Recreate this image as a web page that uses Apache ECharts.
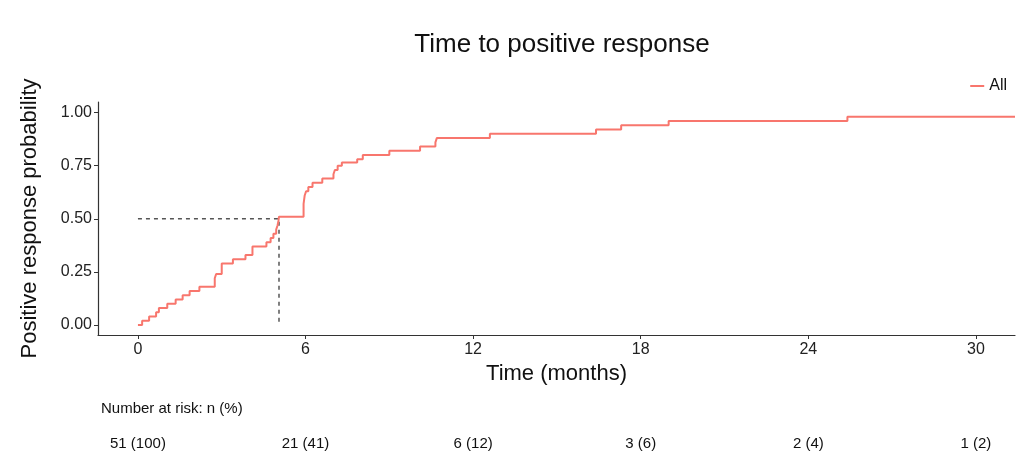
<!DOCTYPE html>
<html>
<head>
<meta charset="utf-8">
<script src="https://cdn.jsdelivr.net/npm/echarts@6/dist/echarts.min.js"></script>
<style>html,body{margin:0;padding:0;background:#fff}#c{width:1024px;height:464px}</style>
</head>
<body>
<div id="c"></div>
<script>
// Kaplan-Meier style step curve: time (months) and cumulative probability
const times = [0, 0.15, 0.4, 0.65, 0.75, 1.05, 1.35, 1.6, 1.85, 2.2, 2.75, 2.8, 3.0, 3.4, 3.85, 4.1, 4.6, 4.75, 4.85, 4.95, 5.0, 5.03, 5.05,
  5.93, 5.97, 6.02, 6.1, 6.25, 6.6, 7.0, 7.05, 7.15, 7.3, 7.85, 8.05, 9.0, 10.1, 10.65, 10.7, 12.6, 16.4, 17.3, 19.0, 25.4, 31.4];
const probs = [0, 0.02, 0.04, 0.06, 0.08, 0.10, 0.12, 0.14, 0.16, 0.18, 0.22, 0.24, 0.29, 0.31, 0.33, 0.37, 0.39, 0.41, 0.43, 0.45, 0.47, 0.49, 0.51,
  0.57, 0.61, 0.63, 0.65, 0.67, 0.69, 0.71, 0.73, 0.75, 0.765, 0.78, 0.80, 0.82, 0.84, 0.86, 0.88, 0.90, 0.92, 0.94, 0.96, 0.98, 0.98];
const medianTime = 5.05;
const medianProb = 0.5;
const xTicks = [0, 6, 12, 18, 24, 30];
const yTicks = [0, 0.25, 0.5, 0.75, 1.0];
const riskLabels = ['51 (100)', '21 (41)', '6 (12)', '3 (6)', '2 (4)', '1 (2)'];
const seriesName = 'All';

const curve = times.map((t, i) => [t, probs[i]]);
const FONT = 'Liberation Sans, Arial, sans-serif';
const chart = echarts.init(document.getElementById('c'), null, {renderer: 'canvas'});
chart.setOption({
  animation: false,
  backgroundColor: '#fff',
  title: [{
    text: 'Time to positive response', left: 557, top: 27, textAlign: 'center',
    textStyle: {fontFamily: FONT, fontSize: 26, fontWeight: 'normal', color: '#111'}
  }, {
    text: 'Number at risk: n (%)', left: 96, top: 396,
    textStyle: {fontFamily: FONT, fontSize: 15, fontWeight: 'normal', color: '#111'}
  }],
  legend: {
    right: 12, top: 73, itemWidth: 14, itemHeight: 2, itemGap: 4,
    data: [{name: seriesName, icon: 'rect'}],
    textStyle: {fontFamily: FONT, fontSize: 16, color: '#111'}
  },
  grid: [
    {left: 98, right: 9, top: 102, bottom: 129},
    {left: 98, right: 9, top: 428, height: 2}
  ],
  xAxis: [{
    type: 'value', gridIndex: 0, min: -1.43, max: 31.4,
    name: 'Time (months)', nameLocation: 'middle', nameGap: 28,
    nameTextStyle: {fontFamily: FONT, fontSize: 22, color: '#111'},
    axisLine: {show: true, onZero: false, lineStyle: {color: '#333', width: 1.2}},
    axisTick: {show: true, length: 4, customValues: xTicks, lineStyle: {color: '#333'}},
    axisLabel: {customValues: xTicks, margin: 7, fontFamily: FONT, fontSize: 16, color: '#222'},
    splitLine: {show: false}
  }, {
    type: 'value', gridIndex: 1, min: -1.43, max: 31.4,
    axisLine: {show: false}, axisTick: {show: false}, splitLine: {show: false},
    axisLabel: {customValues: xTicks, margin: 6, fontFamily: FONT, fontSize: 15, color: '#111',
      formatter: v => riskLabels[xTicks.indexOf(v)] || ''}
  }],
  yAxis: [{
    type: 'value', gridIndex: 0, min: -0.047, max: 1.05,
    name: 'Positive response probability', nameLocation: 'middle', nameGap: 57, nameRotate: 90,
    nameTextStyle: {fontFamily: FONT, fontSize: 22, color: '#111'},
    axisLine: {show: true, onZero: false, lineStyle: {color: '#333', width: 1.2}},
    axisTick: {show: true, length: 4, customValues: yTicks, lineStyle: {color: '#333'}},
    axisLabel: {customValues: yTicks, margin: 6, fontFamily: FONT, fontSize: 16, color: '#222',
      formatter: v => v.toFixed(2)},
    splitLine: {show: false}
  }, {
    type: 'value', gridIndex: 1, show: false
  }],
  series: [{
    name: seriesName, type: 'line', step: 'end', xAxisIndex: 0, yAxisIndex: 0,
    data: curve, showSymbol: false, symbol: 'none',
    lineStyle: {color: '#F8766D', width: 2}, itemStyle: {color: '#F8766D'}
  }, {
    name: 'median', type: 'line', xAxisIndex: 0, yAxisIndex: 0,
    data: [[0, medianProb], [medianTime, medianProb], [medianTime, 0]],
    showSymbol: false, symbol: 'none', silent: true,
    lineStyle: {color: '#555', width: 1.5, type: [4, 4]}, z: 1
  }]
});
</script>
</body>
</html>
